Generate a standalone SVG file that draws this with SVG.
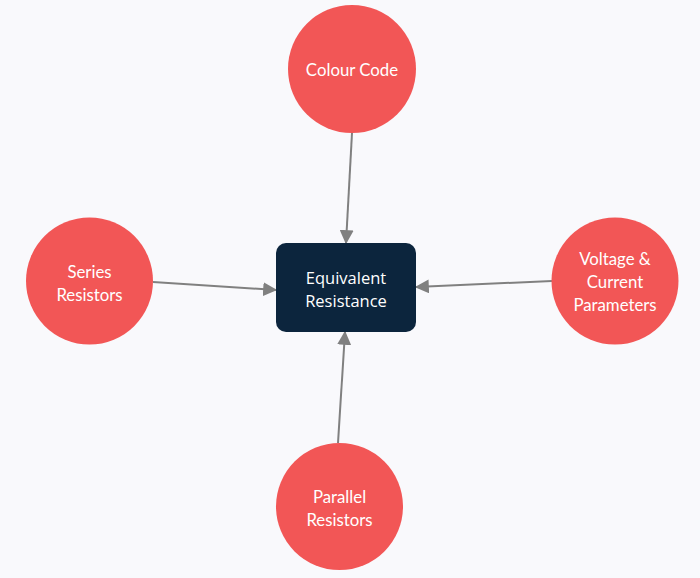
<svg xmlns="http://www.w3.org/2000/svg" width="700" height="578" viewBox="0 0 700 578">
<defs>
<style>
.c{fill:#f25656;}
.t{font-family:Lato,"Liberation Sans",sans-serif;font-size:16.8px;fill:#ffffff;text-anchor:middle;}
.tb{font-family:"Open Sans","Noto Sans",sans-serif;font-size:16.5px;fill:#ffffff;text-anchor:middle;}
.e{stroke:#808080;stroke-width:2;fill:none;marker-end:url(#ah);}
</style>
<marker id="ah" viewBox="0 0 12 12" refX="11" refY="6" markerWidth="14" markerHeight="14" markerUnits="userSpaceOnUse" orient="auto">
<path d="M0,0 L12,6 L0,12 z" fill="#808080"/>
</marker>
</defs>
<rect width="700" height="578" fill="#f9f9fc"/>
<g id="connectors">
<line class="e" x1="352" y1="133" x2="346" y2="243"/>
<line class="e" x1="153" y1="282" x2="276" y2="290"/>
<line class="e" x1="552" y1="281" x2="416" y2="287"/>
<line class="e" x1="338" y1="443" x2="345" y2="332"/>
</g>
<g id="equivalent-resistance">
<rect x="276" y="243" width="140" height="89" rx="10" fill="#0c253d"/>
<text class="tb" x="346" y="284">Equivalent</text>
<text class="tb" x="346" y="307">Resistance</text>
</g>
<g id="colour-code">
<circle class="c" cx="352" cy="69" r="64"/>
<text class="t" x="352" y="76">Colour Code</text>
</g>
<g id="series-resistors">
<circle class="c" cx="89.5" cy="281" r="63.5"/>
<text class="t" x="89.5" y="278">Series</text>
<text class="t" x="89.5" y="301">Resistors</text>
</g>
<g id="voltage-current">
<circle class="c" cx="615" cy="281" r="63.5"/>
<text class="t" x="615" y="265">Voltage &amp;</text>
<text class="t" x="615" y="288">Current</text>
<text class="t" x="615" y="311">Parameters</text>
</g>
<g id="parallel-resistors">
<circle class="c" cx="339.5" cy="506.5" r="63.5"/>
<text class="t" x="339.5" y="503">Parallel</text>
<text class="t" x="339.5" y="526">Resistors</text>
</g>
</svg>
